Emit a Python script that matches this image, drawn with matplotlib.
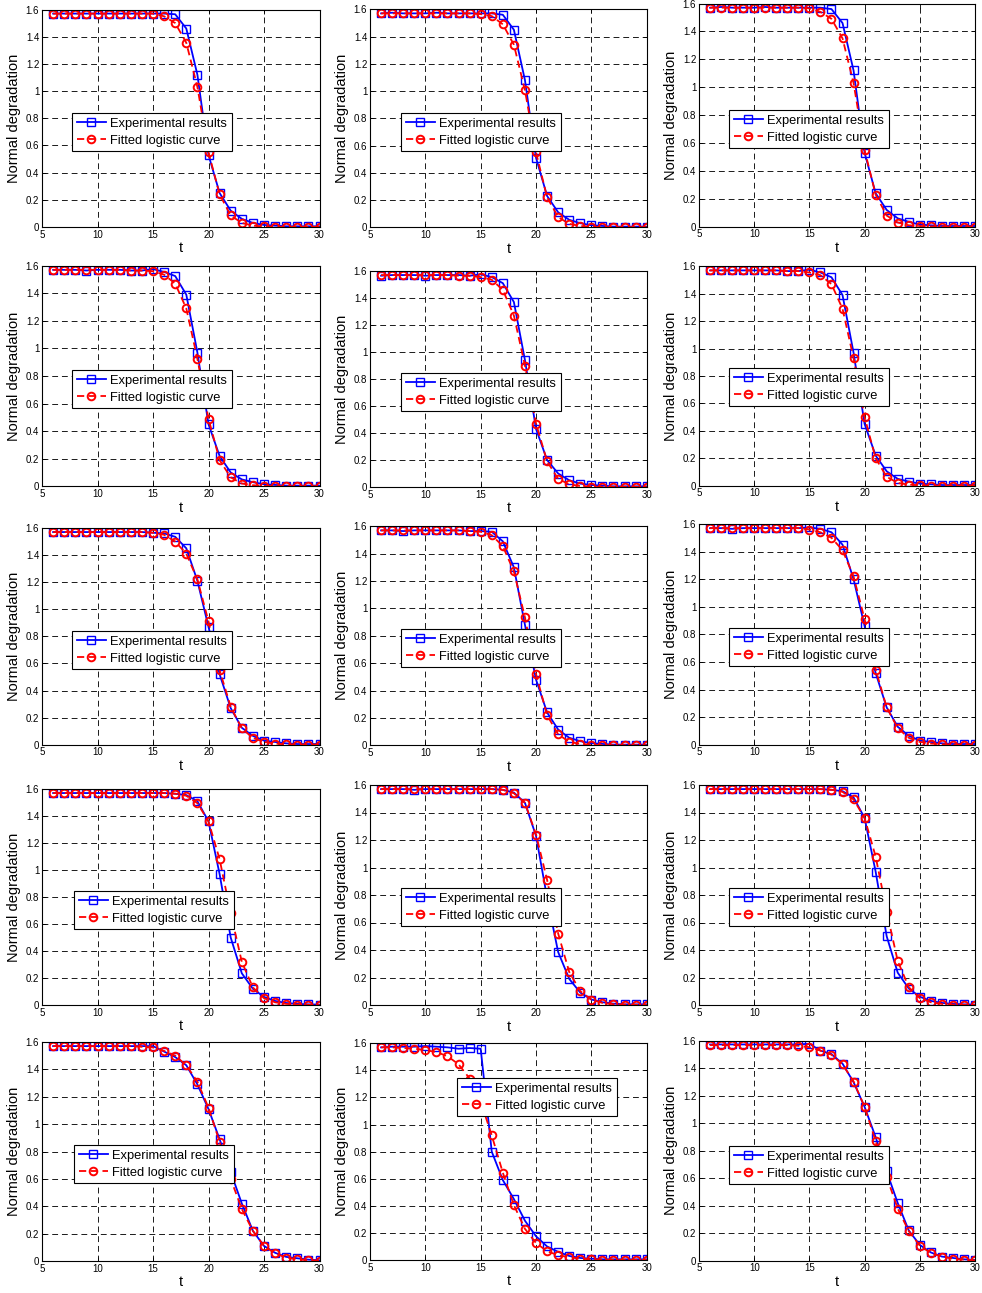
import matplotlib
matplotlib.use('Agg')
import matplotlib.pyplot as plt

# time axis shared by all panels
t = [6, 7, 8, 9, 10, 11, 12, 13, 14, 15, 16, 17, 18, 19, 20, 21, 22, 23, 24, 25, 26, 27, 28, 29, 30]

# experimental results, one list per panel (row by row)
exp_1 = [1.57, 1.57, 1.57, 1.57, 1.57, 1.57, 1.57, 1.57, 1.57, 1.57, 1.57, 1.565, 1.46, 1.12, 0.53, 0.25, 0.12, 0.06, 0.03, 0.015, 0.01, 0.005, 0.005, 0.005, 0.005]
exp_2 = [1.57, 1.575, 1.57, 1.57, 1.57, 1.575, 1.57, 1.57, 1.57, 1.57, 1.57, 1.56, 1.45, 1.08, 0.51, 0.23, 0.11, 0.055, 0.03, 0.015, 0.01, 0.005, 0.005, 0.005, 0.005]
exp_3 = [1.57, 1.575, 1.57, 1.57, 1.57, 1.575, 1.57, 1.57, 1.57, 1.57, 1.57, 1.56, 1.46, 1.12, 0.53, 0.24, 0.12, 0.06, 0.035, 0.015, 0.01, 0.005, 0.005, 0.005, 0.005]
exp_4 = [1.57, 1.57, 1.57, 1.565, 1.57, 1.57, 1.57, 1.565, 1.565, 1.575, 1.555, 1.525, 1.39, 0.97, 0.45, 0.22, 0.10, 0.05, 0.03, 0.015, 0.01, 0.005, 0.005, 0.005, 0.005]
exp_5 = [1.565, 1.57, 1.57, 1.57, 1.565, 1.57, 1.57, 1.57, 1.565, 1.575, 1.555, 1.51, 1.37, 0.94, 0.43, 0.20, 0.10, 0.05, 0.025, 0.015, 0.01, 0.005, 0.005, 0.005, 0.005]
exp_6 = [1.57, 1.57, 1.57, 1.57, 1.57, 1.57, 1.57, 1.565, 1.565, 1.575, 1.555, 1.52, 1.39, 0.97, 0.45, 0.22, 0.105, 0.05, 0.03, 0.015, 0.01, 0.005, 0.005, 0.005, 0.005]
exp_7 = [1.57, 1.57, 1.57, 1.57, 1.57, 1.57, 1.57, 1.57, 1.57, 1.565, 1.56, 1.535, 1.45, 1.21, 0.87, 0.52, 0.27, 0.125, 0.065, 0.03, 0.02, 0.01, 0.005, 0.005, 0.005]
exp_8 = [1.57, 1.57, 1.565, 1.57, 1.57, 1.57, 1.57, 1.57, 1.565, 1.565, 1.56, 1.49, 1.30, 0.88, 0.48, 0.24, 0.115, 0.055, 0.03, 0.015, 0.01, 0.005, 0.005, 0.005, 0.005]
exp_9 = [1.57, 1.57, 1.565, 1.57, 1.57, 1.57, 1.57, 1.57, 1.57, 1.575, 1.565, 1.54, 1.45, 1.20, 0.86, 0.52, 0.27, 0.13, 0.065, 0.03, 0.02, 0.01, 0.005, 0.005, 0.005]
exp_10 = [1.57, 1.57, 1.57, 1.57, 1.57, 1.57, 1.57, 1.57, 1.57, 1.57, 1.57, 1.565, 1.555, 1.51, 1.36, 0.97, 0.50, 0.235, 0.12, 0.06, 0.03, 0.015, 0.008, 0.005, 0.003]
exp_11 = [1.57, 1.57, 1.57, 1.565, 1.57, 1.57, 1.57, 1.57, 1.57, 1.57, 1.57, 1.565, 1.545, 1.47, 1.23, 0.78, 0.385, 0.19, 0.09, 0.04, 0.02, 0.01, 0.005, 0.005, 0.005]
exp_12 = [1.57, 1.57, 1.57, 1.57, 1.57, 1.57, 1.57, 1.57, 1.57, 1.57, 1.57, 1.565, 1.555, 1.51, 1.36, 0.97, 0.50, 0.235, 0.12, 0.06, 0.03, 0.015, 0.008, 0.005, 0.003]
exp_13 = [1.57, 1.57, 1.57, 1.57, 1.57, 1.57, 1.57, 1.57, 1.57, 1.57, 1.53, 1.49, 1.43, 1.29, 1.11, 0.89, 0.65, 0.42, 0.22, 0.11, 0.06, 0.03, 0.02, 0.01, 0.005]
exp_14 = [1.57, 1.575, 1.575, 1.575, 1.58, 1.575, 1.57, 1.56, 1.565, 1.56, 0.80, 0.59, 0.45, 0.29, 0.175, 0.10, 0.06, 0.03, 0.015, 0.01, 0.005, 0.005, 0.005, 0.005, 0.005]
exp_15 = [1.575, 1.575, 1.575, 1.575, 1.575, 1.575, 1.575, 1.575, 1.575, 1.58, 1.53, 1.505, 1.435, 1.30, 1.12, 0.90, 0.65, 0.42, 0.22, 0.115, 0.06, 0.03, 0.02, 0.01, 0.005]

# fitted logistic curve values, one list per panel
fit_1 = [1.57, 1.57, 1.57, 1.57, 1.57, 1.57, 1.57, 1.57, 1.57, 1.57, 1.55, 1.50, 1.355, 1.03, 0.55, 0.24, 0.085, 0.03, 0.01, 0.004, 0.002, 0.001, 0.001, 0.001, 0.001]
fit_2 = [1.57, 1.57, 1.57, 1.57, 1.57, 1.57, 1.57, 1.57, 1.57, 1.565, 1.55, 1.49, 1.34, 1.005, 0.55, 0.22, 0.075, 0.025, 0.01, 0.003, 0.002, 0.001, 0.001, 0.001, 0.001]
fit_3 = [1.57, 1.57, 1.57, 1.57, 1.57, 1.57, 1.57, 1.57, 1.57, 1.565, 1.54, 1.49, 1.35, 1.03, 0.55, 0.23, 0.08, 0.03, 0.01, 0.005, 0.002, 0.001, 0.001, 0.001, 0.001]
fit_4 = [1.57, 1.57, 1.57, 1.57, 1.57, 1.57, 1.57, 1.565, 1.565, 1.56, 1.535, 1.47, 1.29, 0.925, 0.49, 0.19, 0.065, 0.02, 0.008, 0.003, 0.001, 0.001, 0.001, 0.001, 0.001]
fit_5 = [1.57, 1.57, 1.57, 1.57, 1.57, 1.57, 1.57, 1.565, 1.565, 1.555, 1.535, 1.46, 1.27, 0.90, 0.47, 0.19, 0.06, 0.02, 0.007, 0.003, 0.001, 0.001, 0.001, 0.001, 0.001]
fit_6 = [1.57, 1.57, 1.57, 1.57, 1.57, 1.57, 1.57, 1.565, 1.565, 1.555, 1.535, 1.47, 1.29, 0.93, 0.50, 0.20, 0.065, 0.02, 0.008, 0.003, 0.001, 0.001, 0.001, 0.001, 0.001]
fit_7 = [1.57, 1.57, 1.57, 1.57, 1.57, 1.57, 1.57, 1.57, 1.57, 1.565, 1.55, 1.50, 1.41, 1.22, 0.91, 0.55, 0.28, 0.12, 0.05, 0.02, 0.008, 0.003, 0.001, 0.001, 0.001]
fit_8 = [1.57, 1.57, 1.57, 1.57, 1.57, 1.57, 1.57, 1.57, 1.565, 1.56, 1.535, 1.455, 1.27, 0.935, 0.52, 0.22, 0.08, 0.025, 0.01, 0.003, 0.001, 0.001, 0.001, 0.001, 0.001]
fit_9 = [1.57, 1.57, 1.57, 1.57, 1.57, 1.57, 1.57, 1.57, 1.57, 1.56, 1.54, 1.50, 1.41, 1.22, 0.91, 0.545, 0.27, 0.12, 0.05, 0.02, 0.008, 0.003, 0.001, 0.001, 0.001]
fit_10 = [1.57, 1.57, 1.57, 1.57, 1.57, 1.57, 1.57, 1.57, 1.57, 1.57, 1.57, 1.565, 1.55, 1.495, 1.36, 1.08, 0.68, 0.32, 0.13, 0.05, 0.02, 0.008, 0.003, 0.001, 0.001]
fit_11 = [1.57, 1.57, 1.57, 1.57, 1.57, 1.57, 1.57, 1.57, 1.57, 1.57, 1.57, 1.565, 1.54, 1.47, 1.24, 0.91, 0.52, 0.24, 0.10, 0.04, 0.015, 0.006, 0.003, 0.001, 0.001]
fit_12 = [1.57, 1.57, 1.57, 1.57, 1.57, 1.57, 1.57, 1.57, 1.57, 1.57, 1.57, 1.565, 1.55, 1.495, 1.36, 1.08, 0.68, 0.32, 0.13, 0.05, 0.02, 0.008, 0.003, 0.001, 0.001]
fit_13 = [1.57, 1.57, 1.57, 1.57, 1.57, 1.57, 1.57, 1.57, 1.565, 1.56, 1.535, 1.50, 1.43, 1.31, 1.12, 0.87, 0.60, 0.38, 0.22, 0.11, 0.055, 0.025, 0.012, 0.006, 0.003]
fit_14 = [1.57, 1.57, 1.565, 1.56, 1.55, 1.535, 1.505, 1.445, 1.34, 1.17, 0.92, 0.645, 0.405, 0.23, 0.125, 0.065, 0.035, 0.02, 0.01, 0.005, 0.003, 0.002, 0.001, 0.001, 0.001]
fit_15 = [1.57, 1.57, 1.57, 1.57, 1.57, 1.57, 1.57, 1.57, 1.565, 1.555, 1.53, 1.50, 1.43, 1.305, 1.12, 0.87, 0.61, 0.38, 0.215, 0.11, 0.055, 0.03, 0.015, 0.007, 0.003]

experimental = [exp_1, exp_2, exp_3, exp_4, exp_5, exp_6, exp_7, exp_8, exp_9,
                exp_10, exp_11, exp_12, exp_13, exp_14, exp_15]
fitted = [fit_1, fit_2, fit_3, fit_4, fit_5, fit_6, fit_7, fit_8, fit_9,
          fit_10, fit_11, fit_12, fit_13, fit_14, fit_15]

# layout in pixels of the 982x1293 picture
W, H = 982, 1293
col_left = [42, 370, 699]
col_right = [319.5, 646.7, 975]
row_tb = [[(9.5, 227), (9.3, 227.3), (3.5, 226.7)],
          [(265.7, 486.3), (271, 487), (266.3, 485.7)],
          [(528, 744.7), (526.3, 745.3), (524, 744.7)],
          [(789, 1005), (785, 1005), (785, 1005)],
          [(1042, 1261), (1043.3, 1260), (1041, 1260.7)]]
# upper left corner of each legend box
leg_pos = [[(72, 113), (401, 113), (729, 110)],
           [(72, 370), (401, 373), (729, 368)],
           [(72, 631), (401, 629), (729, 628)],
           [(74, 891), (401, 888), (729, 888)],
           [(74, 1145), (457, 1078), (729, 1146)]]

plt.rcParams['font.family'] = ['Liberation Sans', 'DejaVu Sans']

fig = plt.figure(figsize=(W / 100, H / 100), dpi=100)

for i in range(15):
    r, c = divmod(i, 3)
    top, bot = row_tb[r][c]
    ax = fig.add_axes([col_left[c] / W, 1 - bot / H,
                       (col_right[c] - col_left[c]) / W, (bot - top) / H])
    ax.plot(t, experimental[i], color='#0000ff', linestyle='-', linewidth=1.3,
            marker='s', markersize=5.5, markerfacecolor='none',
            markeredgewidth=1.0, label='Experimental results')
    ax.plot(t, fitted[i], color='#ff0000', linestyle='--', dashes=(4, 2.5),
            linewidth=1.3, marker='o', markersize=5.5, markerfacecolor='none',
            markeredgewidth=1.4, label='Fitted logistic curve')
    ax.set_xlim(5, 30)
    ax.set_ylim(0, 1.6)
    ax.set_xticks([5, 10, 15, 20, 25, 30])
    ax.set_yticks([0, 0.2, 0.4, 0.6, 0.8, 1.0, 1.2, 1.4, 1.6])
    ax.set_yticklabels(['0', '0.2', '0.4', '0.6', '0.8', '1', '1.2', '1.4', '1.6'])
    ax.tick_params(direction='in', length=3, width=0.6, labelsize=7, pad=2,
                   top=True, right=True)
    ax.grid(True, color='0.1', linestyle=(0, (6, 4)), linewidth=0.7)
    for s in ax.spines.values():
        s.set_linewidth(0.8)
    ax.set_xlabel('t', fontsize=10.5)
    ax.set_ylabel('Normal degradation', fontsize=10.5)
    ax.xaxis.set_label_coords(0.5, -0.066)
    ax.yaxis.set_label_coords(-0.076, 0.5)

    lx, ly = leg_pos[r][c]
    leg = ax.legend(loc='upper left', bbox_to_anchor=(lx / W, 1 - ly / H),
                    bbox_transform=fig.transFigure, borderaxespad=0,
                    fontsize=9.3, fancybox=False, framealpha=1,
                    edgecolor='black', borderpad=0.35, labelspacing=0.4,
                    handlelength=2.3, handletextpad=0.3)
    leg.get_frame().set_linewidth(0.8)

plt.savefig('out.png', dpi=100)
plt.close('all')
